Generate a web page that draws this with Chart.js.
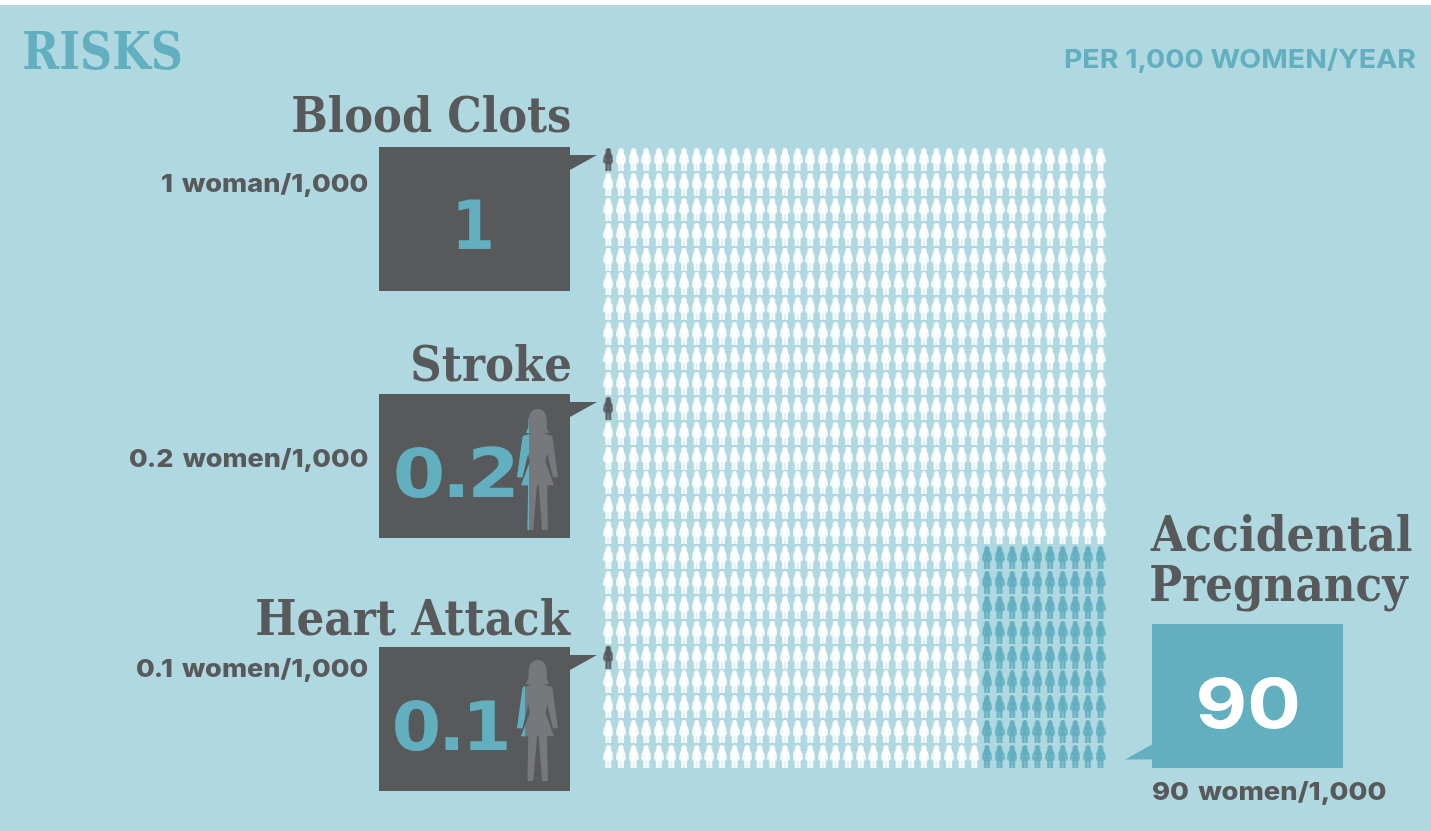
<!DOCTYPE html>
<html>
<head>
<meta charset="utf-8">
<title>Risks per 1,000 women/year</title>
<style>
html,body{margin:0;padding:0;background:#fff;overflow:hidden}
canvas{display:block}
</style>
<script src="https://cdn.jsdelivr.net/npm/chart.js@4"></script>
</head>
<body>
<canvas id="c" width="1431" height="831"></canvas>
<script>
// ---- data ----
const pageTitle = "RISKS";
const pageUnit = "PER 1,000 WOMEN/YEAR";
const riskNames = ["Blood Clots", "Stroke", "Heart Attack"];
const riskValues = ["1", "0.2", "0.1"];
const riskNotes = ["1 woman/1,000", "0.2 women/1,000", "0.1 women/1,000"];
const riskRows = [0, 10, 20];
const pregnancyNameLines = ["Accidental", "Pregnancy"];
const pregnancyValue = "90";
const pregnancyNote = "90 women/1,000";
const pregnancyCols = [30, 31, 32, 33, 34, 35, 36, 37, 38, 39];
const pregnancyRows = [16, 17, 18, 19, 20, 21, 22, 23, 24];
const gridCols = 40;
const gridRows = 25;

// ---- palette ----
const BG = "#b0d8e0", TEAL = "#62afc0", DARK = "#58595b", GREY = "#77787b", WHITE = "#ffffff";
const SLAB = "DejaVu Serif", SANS = "Inter", NUM = "DejaVu Sans";

// ---- woman glyphs: large (box x 442..563, y 57..420) and small (box 10x23) ----
const WOMAN = "M503 57C485 57 476 72 476 95L476 105C476 115 472 122 468 128L485 131L462 137C459 138 458 141 458 144L442 262L458 262L475 190L480 215L454 286L475 286L473 420L490 420L501 286L506 286L516 420L533 420L531 286L551 286L526 215L531 190L548 262L563 262L547 144C547 141 546 138 543 137L521 131L537 128C532 122 530 115 530 105L530 95C530 72 521 57 503 57Z";
const WOMAN_SMALL = "M5 0C3.4 0 2.4 1.4 2.4 3C2.4 4.6 2 6 1.5 6.6L0.8 8L0 14.5L1.6 14.5L2.6 10L2.8 11L1.2 16L2.2 16L2.2 23L4.6 23L4.7 16L5.3 16L5.4 23L7.8 23L7.8 16L8.8 16L7.2 11L7.4 10L8.4 14.5L10 14.5L9.2 8L8.5 6.6C8 6 7.6 4.6 7.6 3C7.6 1.4 6.6 0 5 0Z";
const womanPath = new Path2D(WOMAN);
const womanSmallPath = new Path2D(WOMAN_SMALL);
function placeWoman(ctx, x, y, w, h) {
  ctx.translate(x, y);
  ctx.scale(w / 121, h / 363);
  ctx.translate(-442, -57);
}
function icon(color) {
  const k = document.createElement("canvas");
  k.width = 10; k.height = 23;
  const g = k.getContext("2d");
  g.fillStyle = color;
  g.fill(womanSmallPath);
  return k;
}

// ---- marks, built from the arrays above ----
const isPreg = (c, r) => pregnancyCols.includes(c) && pregnancyRows.includes(r);
const isRisk = (c, r) => c === 0 && riskRows.includes(r);
const restPts = [], pregPts = [], riskPts = [];
for (let r = 0; r < gridRows; r++) {
  for (let c = 0; c < gridCols; c++) {
    const p = { x: c, y: r };
    if (isPreg(c, r)) pregPts.push(p);
    else if (isRisk(c, r)) riskPts.push(p);
    else restPts.push(p);
  }
}

// ---- text: ink is fitted to a measured box ----
function fitText(ctx, str, x0, x1, base, font, color, letter, word) {
  ctx.save();
  ctx.font = font;
  ctx.letterSpacing = letter || "0px";
  ctx.wordSpacing = word || "0px";
  ctx.textAlign = "left";
  ctx.textBaseline = "alphabetic";
  ctx.fillStyle = color;
  const m = ctx.measureText(str);
  const ink = m.actualBoundingBoxLeft + m.actualBoundingBoxRight;
  const s = (x1 - x0) / ink;
  ctx.translate(x0, base);
  ctx.scale(s, 1);
  ctx.fillText(str, m.actualBoundingBoxLeft, 0);
  ctx.restore();
}
function poly(ctx, pts, color) {
  ctx.fillStyle = color;
  ctx.beginPath();
  pts.forEach((p, i) => i ? ctx.lineTo(p[0], p[1]) : ctx.moveTo(p[0], p[1]));
  ctx.closePath();
  ctx.fill();
}

const riskLayout = [
  { top: 147, nameX: [293, 570], nameBase: 132, noteX: [162, 368], noteBase: 192, numX: [458, 491], numBase: 249 },
  { top: 394, nameX: [413, 570], nameBase: 381, noteX: [130, 368], noteBase: 467, numX: [396, 514], numBase: 497, figTop: 409, figFill: 12 },
  { top: 647, nameX: [257, 571], nameBase: 635, noteX: [137, 368], noteBase: 677, numX: [395, 507], numBase: 750, figTop: 660, figFill: 8 }
];

const artwork = {
  id: "artwork",
  beforeDatasetsDraw(chart) {
    const ctx = chart.ctx;
    ctx.save();
    ctx.fillStyle = BG;
    ctx.fillRect(0, 5, 1431, 826);

    fitText(ctx, pageTitle, 24, 181, 69, "bold 53px '" + SLAB + "'", TEAL);
    fitText(ctx, pageUnit, 1065, 1416, 68, "700 26px '" + SANS + "'", TEAL);

    riskLayout.forEach((L, i) => {
      ctx.fillStyle = DARK;
      ctx.fillRect(379, L.top, 191, 144);
      poly(ctx, [[570, L.top + 8], [597, L.top + 8], [570, L.top + 23]], DARK);
      fitText(ctx, riskNames[i], L.nameX[0], L.nameX[1], L.nameBase, "bold 49px '" + SLAB + "'", DARK);
      fitText(ctx, riskNotes[i], L.noteX[0], L.noteX[1], L.noteBase, "800 25px '" + SANS + "'", DARK, "0px", "3px");
      fitText(ctx, riskValues[i], L.numX[0], L.numX[1], L.numBase, "bold 68px '" + NUM + "'", TEAL, "-3px");
      if (L.figTop) {
        ctx.save();
        placeWoman(ctx, 517, L.figTop, 41, 121);
        ctx.fillStyle = GREY;
        ctx.fill(womanPath);
        ctx.restore();
        ctx.save();
        ctx.beginPath();
        ctx.rect(517, L.figTop, L.figFill, 121);
        ctx.clip();
        placeWoman(ctx, 517, L.figTop, 41, 121);
        ctx.fillStyle = TEAL;
        ctx.fill(womanPath);
        ctx.restore();
      }
    });

    fitText(ctx, pregnancyNameLines[0], 1150, 1412, 551, "bold 49px '" + SLAB + "'", DARK);
    fitText(ctx, pregnancyNameLines[1], 1151, 1409, 601, "bold 49px '" + SLAB + "'", DARK);
    ctx.fillStyle = TEAL;
    ctx.fillRect(1152, 624, 191, 144);
    poly(ctx, [[1152, 744.5], [1125, 759.5], [1152, 759.5]], TEAL);
    fitText(ctx, pregnancyValue, 1199, 1298, 728, "bold 69px '" + SANS + "'", WHITE);
    fitText(ctx, pregnancyNote, 1153, 1386, 800, "800 25px '" + SANS + "'", DARK, "0px", "3px");
    ctx.restore();
  }
};

new Chart(document.getElementById("c"), {
  type: "scatter",
  data: {
    datasets: [
      { label: "Other women", data: restPts, pointStyle: icon(WHITE), clip: false },
      { label: "Accidental pregnancy", data: pregPts, pointStyle: icon(TEAL), clip: false },
      { label: "Risk events", data: riskPts, pointStyle: icon(DARK), clip: false }
    ]
  },
  plugins: [artwork],
  options: {
    responsive: false,
    animation: false,
    events: [],
    layout: { padding: { left: 608.3, right: 330.5, top: 159.5, bottom: 74.5 } },
    plugins: { legend: { display: false }, tooltip: { enabled: false }, title: { display: false } },
    scales: {
      x: { type: "linear", min: 0, max: gridCols - 1, display: false },
      y: { type: "linear", min: 0, max: gridRows - 1, reverse: true, display: false }
    }
  }
});
</script>
</body>
</html>
